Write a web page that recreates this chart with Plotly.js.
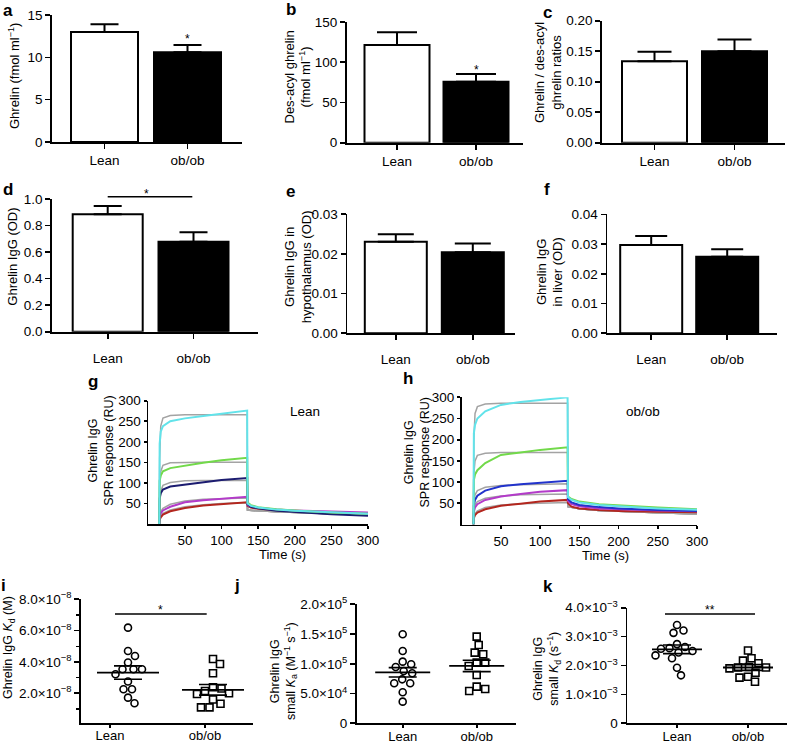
<!DOCTYPE html>
<html><head><meta charset="utf-8">
<script src="https://cdn.plot.ly/plotly-3.0.1.min.js"></script>
<style>html,body{margin:0;padding:0;background:#fff}#chart{width:788px;height:745px}</style>
</head><body><div id="chart"></div>
<script>
// ---------- DATA ----------
const groups = ['Lean', 'ob/ob'];
// bar panels (mean, SEM)
const ghrelinMean = [13.0, 10.6],   ghrelinSem = [0.9, 0.86];
const desacylMean = [121.4, 75.8],  desacylSem = [15.8, 9.6];
const ratioMean   = [0.1334, 0.1498], ratioSem = [0.0156, 0.0192];
const igGMean     = [0.885, 0.678], igGSem = [0.062, 0.071];
const hypoMean    = [0.0230, 0.0204], hypoSem = [0.0019, 0.0022];
const liverMean   = [0.0297, 0.02575], liverSem = [0.0030, 0.0025];
const aTicks = [0, 5, 10, 15];
const bTicks = [0, 50, 100, 150];
const cTicks = [0, 0.05, 0.10, 0.15, 0.20];
const dTicks = [0, 0.2, 0.4, 0.6, 0.8, 1.0];
const eTicks = [0, 0.01, 0.02, 0.03];
const fTicks = [0, 0.01, 0.02, 0.03, 0.04];

// SPR sensorgrams (time in s, response in RU)
const sprTime = [15, 15.5, 17, 20, 30, 50, 75, 100, 135, 135.5, 140, 150, 175, 200, 250, 300];
const leanCyan    = [0, 195, 225, 238, 250, 257, 263, 268, 276, 50, 44, 40, 35, 32, 28, 25];
const leanGreen   = [0, 105, 118, 128, 136, 142, 149, 155, 161, 52, 46, 41, 36, 33, 28, 25];
const leanNavy    = [0, 62, 75, 84, 91, 96, 102, 107, 112, 48, 42, 38, 32, 29, 24, 20];
const leanMagenta = [0, 18, 26, 33, 42, 53, 58, 62, 66, 46, 42, 39, 35, 33, 30, 28];
const leanRed     = [0, 10, 16, 23, 31, 39, 45, 49, 53, 44, 40, 37, 34, 31, 28, 26];
const leanFit1 = [0, 160, 238, 258, 264, 266, 266, 266, 266, 34, 33, 32, 30, 28, 25, 22];
const leanFit2 = [0, 90, 128, 143, 149, 150, 150, 150, 150, 34, 33, 32, 30, 28, 25, 22];
const leanFit3 = [0, 55, 80, 94, 101, 105, 106, 106, 106, 34, 33, 32, 30, 28, 25, 22];
const leanFit4 = [0, 20, 30, 38, 48, 56, 60, 62, 63, 34, 33, 32, 30, 28, 25, 22];
const leanFit5 = [0, 12, 19, 26, 34, 42, 47, 50, 52, 34, 33, 32, 30, 28, 25, 22];
const obCyan    = [0, 215, 235, 250, 267, 282, 289, 294, 300, 64, 58, 52, 46, 43, 38, 35];
const obGreen   = [0, 105, 118, 128, 145, 164, 170, 176, 182, 66, 60, 54, 48, 45, 40, 36];
const obBlue    = [0, 45, 58, 68, 80, 90, 95, 99, 103, 60, 52, 46, 41, 38, 34, 32];
const obMagenta = [0, 30, 40, 48, 58, 66, 72, 77, 81, 56, 48, 43, 38, 36, 33, 31];
const obRed     = [0, 15, 22, 28, 36, 44, 49, 54, 58, 50, 42, 38, 34, 32, 30, 29];
const obFit1 = [0, 200, 262, 278, 284, 286, 286, 286, 286, 42, 40, 37, 33, 31, 28, 25];
const obFit2 = [0, 120, 150, 163, 168, 170, 170, 170, 170, 42, 40, 37, 33, 31, 28, 25];
const obFit3 = [0, 55, 70, 80, 88, 92, 94, 95, 96, 42, 40, 37, 33, 31, 28, 25];
const obFit4 = [0, 35, 46, 54, 62, 67, 70, 71, 72, 42, 40, 37, 33, 31, 28, 25];
const obFit5 = [0, 18, 26, 32, 40, 46, 49, 51, 52, 42, 40, 37, 33, 31, 28, 25];
const sprTicks = [50, 100, 150, 200, 250, 300];

// i: Kd (M)
const kdLean = [6.19e-8, 4.70e-8, 4.38e-8, 3.96e-8, 3.53e-8, 3.53e-8, 3.53e-8, 3.21e-8, 2.75e-8, 2.26e-8, 2.26e-8, 1.72e-8, 1.36e-8];
const kdOb   = [4.19e-8, 3.87e-8, 3.28e-8, 2.38e-8, 2.30e-8, 2.14e-8, 2.00e-8, 1.95e-8, 1.60e-8, 1.33e-8, 1.10e-8, 1.10e-8];
const kdMean = [3.32e-8, 2.22e-8], kdSem = [0.43e-8, 0.34e-8];
const iTicks = [2e-8, 4e-8, 6e-8, 8e-8];
const iTickText = ['2.0×10<sup>−8</sup>', '4.0×10<sup>−8</sup>', '6.0×10<sup>−8</sup>', '8.0×10<sup>−8</sup>'];
const iMinor = [1e-8, 3e-8, 5e-8, 7e-8];
// j: small Ka (M-1 s-1)
const kaLean = [1.496e5, 1.216e5, 1.036e5, 0.992e5, 0.947e5, 0.880e5, 0.840e5, 0.739e5, 0.672e5, 0.672e5, 0.521e5, 0.364e5];
const kaOb   = [1.457e5, 1.317e5, 1.188e5, 1.160e5, 1.020e5, 1.020e5, 0.964e5, 0.812e5, 0.616e5, 0.577e5, 0.543e5];
const kaMean = [0.857e5, 0.964e5], kaSem = [0.079e5, 0.095e5];
const jTicks = [0, 5e4, 1e5, 1.5e5, 2e5];
const jTickText = ['0', '5.0×10<sup>4</sup>', '1.0×10<sup>5</sup>', '1.5×10<sup>5</sup>', '2.0×10<sup>5</sup>'];
// k: small Kd (s-1)
const kdsLean = [3.40e-3, 3.21e-3, 3.13e-3, 2.74e-3, 2.64e-3, 2.60e-3, 2.58e-3, 2.50e-3, 2.45e-3, 2.35e-3, 2.25e-3, 1.92e-3, 1.66e-3];
const kdsOb   = [2.52e-3, 2.25e-3, 2.17e-3, 2.08e-3, 1.95e-3, 1.93e-3, 1.93e-3, 1.90e-3, 1.75e-3, 1.61e-3, 1.58e-3, 1.44e-3];
const kdsMean = [2.56e-3, 1.93e-3], kdsSem = [0.15e-3, 0.10e-3];
const kTicks = [0, 1e-3, 2e-3, 3e-3, 4e-3];
const kTickText = ['0', '1.0×10<sup>−3</sup>', '2.0×10<sup>−3</sup>', '3.0×10<sup>−3</sup>', '4.0×10<sup>−3</sup>'];

// ---------- LAYOUT HELPERS ----------
const W = 788, H = 745;
const fx = p => p / W, fy = p => 1 - p / H;
const FONT = '"Liberation Sans", Arial, sans-serif';
const traces = [];
const layout = {
  width: W, height: H, margin: {l: 0, r: 0, t: 0, b: 0}, showlegend: false,
  paper_bgcolor: '#fff', plot_bgcolor: 'rgba(0,0,0,0)',
  font: {family: FONT, color: '#000'}, annotations: [], shapes: []
};
function axisBase() {
  return {showline: true, linecolor: '#000', linewidth: 1.8, ticks: 'outside', ticklen: 5,
    tickwidth: 1.6, tickcolor: '#000', showgrid: false, zeroline: false,
    tickfont: {family: FONT, size: 13.5, color: '#000'}, fixedrange: true};
}
function addAxes(n, g) {
  const s = n === 1 ? '' : String(n);
  layout['xaxis' + s] = Object.assign(axisBase(), {domain: [fx(g.l), fx(g.r)], range: g.xRange, anchor: 'y' + s}, g.x || {});
  layout['yaxis' + s] = Object.assign(axisBase(), {domain: [fy(g.bottom), fy(g.top)], range: g.yRange, anchor: 'x' + s}, g.y || {});
  return {x: 'x' + s, y: 'y' + s};
}
function barPanel(n, g, mean, sem, ticks, fmt) {
  const u = g.c1 - g.c0;
  g.xRange = [(g.l - g.c0) / u, (g.r - g.c0) / u];
  g.x = Object.assign({tickvals: [0, 1], ticktext: groups}, g.xExtra || {});
  g.y = {tickvals: ticks, tickformat: fmt};
  const ax = addAxes(n, g);
  traces.push({type: 'bar', x: [0, 1], y: mean, width: g.barW / u, xaxis: ax.x, yaxis: ax.y,
    marker: {color: ['#fff', '#000'], line: {color: '#000', width: 2}},
    error_y: {type: 'data', symmetric: false, array: sem, arrayminus: [0, 0], color: '#000', thickness: 2, width: g.cap},
    hoverinfo: 'skip'});
}
function swarm(values, pxPerY, D) {
  const order = values.map((v, i) => i).sort((a, b) => values[b] - values[a]);
  const placed = [], out = new Array(values.length);
  order.forEach(i => {
    const yp = values[i] * pxPerY;
    for (let k = 0; k < 2000; k++) {
      const cand = k === 0 ? 0 : (k % 2 ? 1 : -1) * Math.ceil(k / 2) * 0.5;
      if (placed.every(p => Math.hypot(p.x - cand, p.y - yp) >= D)) {
        placed.push({x: cand, y: yp}); out[i] = cand; break;
      }
    }
  });
  return out;
}
function dotPanel(n, g, sets, means, sems, yAxisOpts) {
  const u = g.c1 - g.c0;
  g.xRange = [(g.l - g.c0) / u, (g.r - g.c0) / u];
  g.x = Object.assign({tickvals: [0, 1], ticktext: groups, ticklen: 3, ticklabelstandoff: -3,
    tickfont: {family: FONT, size: 13, color: '#000'}}, g.xTick || {});
  g.y = yAxisOpts;
  const ax = addAxes(n, g);
  const pxPerY = (g.bottom - g.top) / (g.yRange[1] - g.yRange[0]);
  sets.forEach((vals, gi) => {
    const off = swarm(vals, pxPerY, 8.5);
    traces.push({type: 'scatter', mode: 'markers', x: off.map(o => gi + o / u), y: vals, xaxis: ax.x, yaxis: ax.y,
      marker: {symbol: gi === 0 ? 'circle' : 'square', size: 7, color: '#fff', line: {color: '#000', width: 1.6}},
      cliponaxis: false, hoverinfo: 'skip'});
  });
  means.forEach((m, gi) => {
    const mw = g.meanW / u / 2, sw = 14 / u;
    traces.push({type: 'scatter', mode: 'lines', x: [gi - mw, gi + mw], y: [m, m], xaxis: ax.x, yaxis: ax.y,
      line: {color: '#000', width: 1.8}, hoverinfo: 'skip'});
    [m + sems[gi], m - sems[gi]].forEach(v => traces.push({type: 'scatter', mode: 'lines', x: [gi - sw, gi + sw], y: [v, v],
      xaxis: ax.x, yaxis: ax.y, line: {color: '#000', width: 1.6}, hoverinfo: 'skip'}));
  });
}
function sprPanel(n, g, curves, fits) {
  g.xRange = [0, 300]; g.yRange = [0, 300];
  g.x = {tickvals: sprTicks, ticklen: 3};
  g.y = {tickvals: sprTicks, ticklen: 3};
  const ax = addAxes(n, g);
  fits.forEach(f => traces.push({type: 'scatter', mode: 'lines', x: sprTime, y: f, xaxis: ax.x, yaxis: ax.y,
    line: {color: '#a3a3a3', width: 1.5}, hoverinfo: 'skip'}));
  curves.forEach(c => traces.push({type: 'scatter', mode: 'lines', x: sprTime, y: c.y, xaxis: ax.x, yaxis: ax.y,
    line: {color: c.color, width: 2}, hoverinfo: 'skip'}));
}
function note(text, xpx, ypx, size, extra) {
  layout.annotations.push(Object.assign({text, x: fx(xpx), y: fy(ypx), xref: 'paper', yref: 'paper', showarrow: false,
    xanchor: 'center', yanchor: 'middle', font: {family: FONT, size: size, color: '#000'}}, extra || {}));
}
function vtitle(text, xpx, ypx, size) { note(text, xpx, ypx, size || 13, {textangle: -90}); }
function hline(x0, x1, ypx) {
  layout.shapes.push({type: 'line', xref: 'paper', yref: 'paper', x0: fx(x0), x1: fx(x1), y0: fy(ypx), y1: fy(ypx),
    line: {color: '#000', width: 1.5}});
}

// ---------- PANELS ----------
const lowLabels = {ticklabelstandoff: 8};
barPanel(1, {l: 52, r: 242, bottom: 142, top: 15, c0: 104.5, c1: 187.5, yRange: [0, 15], barW: 67, cap: 14}, ghrelinMean, ghrelinSem, aTicks, '');
barPanel(2, {l: 346.7, r: 523, bottom: 142.7, top: 22, c0: 397, c1: 476, yRange: [0, 150], barW: 65, cap: 20}, desacylMean, desacylSem, bTicks, '');
barPanel(3, {l: 602, r: 785, bottom: 142.7, top: 20.7, c0: 654.5, c1: 734.5, yRange: [0, 0.2], barW: 65, cap: 17}, ratioMean, ratioSem, cTicks, '.2f');
barPanel(4, {l: 52, r: 258, bottom: 331.7, top: 199, c0: 107.7, c1: 193.5, yRange: [0, 1], barW: 70, cap: 14, xExtra: lowLabels}, igGMean, igGSem, dTicks, '.1f');
barPanel(5, {l: 347.3, r: 515, bottom: 333.3, top: 214, c0: 395.8, c1: 472.8, yRange: [0, 0.03], barW: 62, cap: 18, xExtra: lowLabels}, hypoMean, hypoSem, eTicks, '.2f');
barPanel(6, {l: 607.3, r: 776.7, bottom: 333.3, top: 214.3, c0: 651.2, c1: 727.2, yRange: [0, 0.04], barW: 62, cap: 16, xExtra: lowLabels}, liverMean, liverSem, fTicks, '.2f');

sprPanel(7, {l: 148.3, r: 368, bottom: 524, top: 400.7},
  [{y: leanRed, color: '#b3261e'}, {y: leanMagenta, color: '#b33bc9'}, {y: leanNavy, color: '#1c1c70'},
   {y: leanGreen, color: '#72d94a'}, {y: leanCyan, color: '#62e3ea'}],
  [leanFit1, leanFit2, leanFit3, leanFit4, leanFit5]);
sprPanel(8, {l: 461.7, r: 697, bottom: 524.5, top: 397.3},
  [{y: obRed, color: '#b3261e'}, {y: obMagenta, color: '#b33bc9'}, {y: obBlue, color: '#2233cc'},
   {y: obGreen, color: '#72d94a'}, {y: obCyan, color: '#62e3ea'}],
  [obFit1, obFit2, obFit3, obFit4, obFit5]);

dotPanel(9, {l: 81, r: 253, bottom: 722.7, top: 599.3, c0: 128, c1: 213, yRange: [0.12e-8, 8e-8], meanW: 62,
  xTick: {tickvals: [-0.212, 0.906]}},
  [kdLean, kdOb], kdMean, kdSem,
  {tickvals: iTicks, ticktext: iTickText, minor: {tickvals: iMinor, ticklen: 3, tickwidth: 1.4, tickcolor: '#000', ticks: 'outside'}});
dotPanel(10, {l: 356.7, r: 516, bottom: 723.3, top: 604.3, c0: 402.7, c1: 476.7, yRange: [0, 2e5], meanW: 55},
  [kaLean, kaOb], kaMean, kaSem, {tickvals: jTicks, ticktext: jTickText});
dotPanel(11, {l: 627.3, r: 786.7, bottom: 723.3, top: 607.7, c0: 677, c1: 748, yRange: [0, 4e-3], meanW: 50},
  [kdsLean, kdsOb], kdsMean, kdsSem, {tickvals: kTicks, ticktext: kTickText});

// ---------- TEXT ----------
[['a', 8, 11], ['b', 290.5, 9], ['c', 547.5, 12], ['d', 7.5, 189], ['e', 290, 191], ['f', 546.5, 189],
 ['g', 93, 381], ['h', 408, 378.5], ['i', 3.5, 585], ['j', 236.5, 585.5], ['k', 547.5, 586]]
  .forEach(([t, x, y]) => note('<b>' + t + '</b>', x, y, 17));

vtitle('Ghrelin (fmol ml<sup>−1</sup>)', 14, 76);
vtitle('Des-acyl ghrelin<br>(fmol ml<sup>−1</sup>)', 297.5, 77);
vtitle('Ghrelin / des-acyl<br>ghrelin ratios', 547.5, 72.5);
vtitle('Ghrelin IgG (OD)', 13, 256.7);
vtitle('Ghrelin IgG in<br>hypothalamus (OD)', 297.5, 266.7);
vtitle('Ghrelin IgG<br>in liver (OD)', 549, 272.5);
vtitle('Ghrelin IgG<br>SPR response (RU)', 101, 450.8, 12.5);
vtitle('Ghrelin IgG<br>SPR response (RU)', 417, 452.5, 12.5);
vtitle('Ghrelin IgG <i>K</i><sub>d</sub> (M)', 9, 648, 12.5);
vtitle('Ghrelin IgG<br>small <i>K</i><sub>a</sub> (M<sup>−1</sup> s<sup>−1</sup>)', 283.3, 670.8, 12.5);
vtitle('Ghrelin IgG<br>small <i>K</i><sub>d</sub> (s<sup>−1</sup>)', 546.7, 669, 12.5);

note('Time (s)', 282, 554, 13);
note('Time (s)', 605, 555, 13);
note('Lean', 305, 411.7, 13.5);
note('ob/ob', 643, 411.7, 13.5);

// significance marks
note('*', 187.7, 39, 12);
note('*', 476, 70, 12);
note('*', 146, 194, 12);
note('*', 160, 610, 12);
note('**', 710, 610, 12);
hline(107.7, 192.3, 196.7);
hline(115, 206.7, 614);
hline(665, 755, 614);

Plotly.newPlot('chart', traces, layout, {staticPlot: true, displayModeBar: false});
</script>
</body></html>
